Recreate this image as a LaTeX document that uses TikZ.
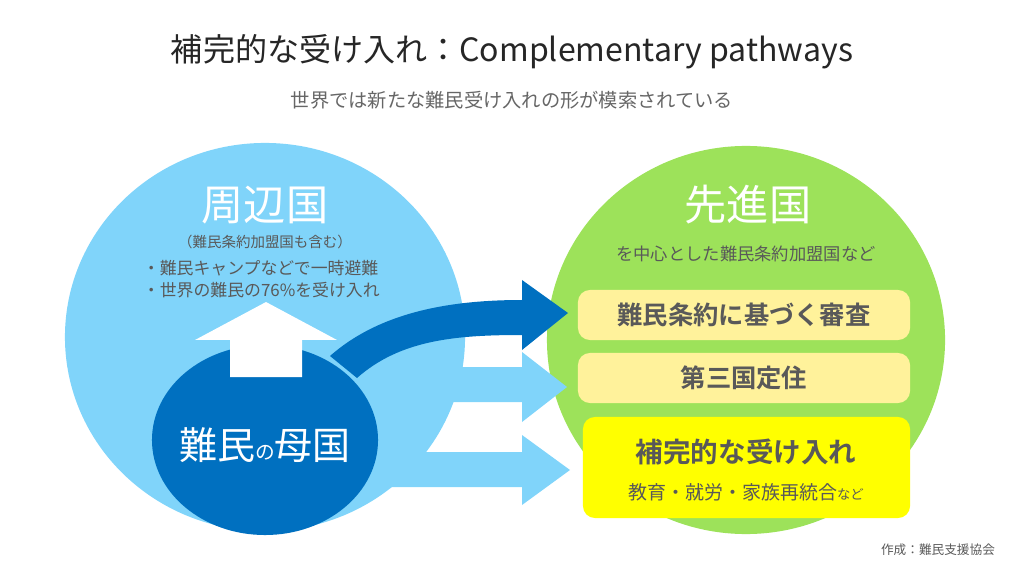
\documentclass[tikz,border=0pt]{standalone}
\usepackage{fontspec}
\setmainfont{Noto Sans CJK JP}[BoldFont={Noto Sans CJK JP Bold}]
\usetikzlibrary{shapes.geometric, positioning}

\definecolor{lightblue}{HTML}{80D4FA}
\definecolor{darkblue}{HTML}{0070C0}
\definecolor{leafgreen}{HTML}{9DE25A}
\definecolor{paleyellow}{HTML}{FFF29B}
\definecolor{brightyellow}{HTML}{FFFF00}
\definecolor{textgray}{HTML}{595959}
\definecolor{subgray}{HTML}{666666}

\tikzstyle{region} = [ellipse, inner sep=0pt]
\tikzstyle{heading} = [text=white, font=\fontsize{30}{32}\selectfont]
\tikzstyle{note} = [text=textgray, font=\fontsize{12}{15.6}\selectfont]
\tikzstyle{route} = [rectangle, rounded corners=0.3cm, minimum width=8.3cm, minimum height=1.25cm, text centered, fill=paleyellow, text=textgray, font=\bfseries\fontsize{18}{20}\selectfont]

\begin{document}
\begin{tikzpicture}[x=0.025cm, y=-0.025cm]

\useasboundingbox (0,0) rectangle (1024,576);

\node (near) [region, fill=lightblue, minimum width=10cm, minimum height=9.7cm] at (265,337) {};
\node (far) [region, fill=leafgreen, minimum width=9.95cm, minimum height=9.7cm] at (746,340) {};
\node (home) [region, fill=darkblue, minimum width=5.65cm, minimum height=4.75cm] at (265,440) {};

\fill[lightblue] (400,367) -- (522,367) -- (522,352) -- (567,387) -- (522,422) -- (522,402) -- (400,402) -- cycle;
\fill[lightblue] (380,452) -- (522,452) -- (522,435) -- (570,470) -- (522,505) -- (522,487) -- (380,487) -- cycle;
\fill[darkblue] (330,356) .. controls (380,312) and (450,300) .. (522,300) -- (522,280) -- (568,313) -- (522,350) -- (522,335) .. controls (455,335) and (400,340) .. (357,378) -- cycle;
\fill[white] (230,377) -- (230,340) -- (195,340) -- (266,302) -- (337,340) -- (302,340) -- (302,377) -- cycle;

\node (title) [text=black!85, font=\fontsize{22.8}{24}\selectfont] at (512,52) {補完的な受け入れ：Complementary pathways};
\node (subtitle) [text=subgray, font=\fontsize{13.7}{15}\selectfont] at (512,100) {世界では新たな難民受け入れの形が模索されている};

\node (nearname) [heading] at (265,205) {周辺国};
\node (nearnote) [note, font=\fontsize{10.3}{12}\selectfont] at (265,242) {（難民条約加盟国も含む）};
\node (nearlist) [note, align=left, anchor=west] at (138,279) {・難民キャンプなどで一時避難\\・世界の難民の76\%を受け入れ};

\node (farname) [heading] at (748,205) {先進国};
\node (farnote) [note, font=\fontsize{12.3}{14}\selectfont] at (746,254) {を中心とした難民条約加盟国など};

\node (homename) [text=white, font=\fontsize{27}{29}\selectfont] at (265,445) {難民{\fontsize{14}{16}\selectfont の}母国};

\node (review) [route] at (744,315) {難民条約に基づく審査};
\node (resettle) [route] at (744,378) {第三国定住};
\node (pathway) [route, fill=brightyellow, minimum width=8.175cm, minimum height=2.525cm] at (746.5,467.5) {};
\node (pathname) [text=textgray, font=\bfseries\fontsize{19.6}{21}\selectfont] at (746,452) {補完的な受け入れ};
\node (pathlist) [text=textgray, font=\fontsize{13.5}{15}\selectfont] at (746,492) {教育・就労・家族再統合{\fontsize{9.5}{11}\selectfont など}};

\node (credit) [text=textgray, font=\fontsize{9}{11}\selectfont] at (938,550) {作成：難民支援協会};

\end{tikzpicture}
\end{document}
